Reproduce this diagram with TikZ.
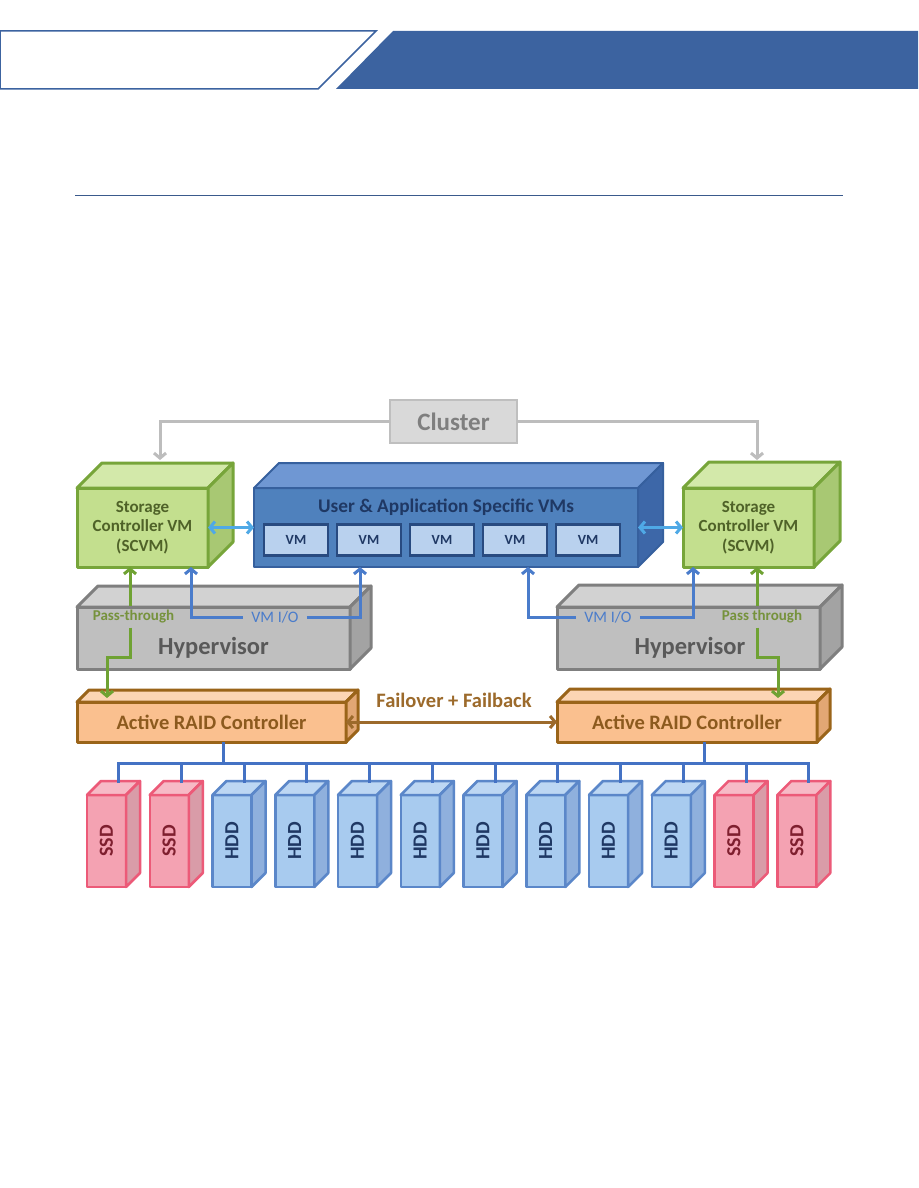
\documentclass[tikz,border=0pt]{standalone}
\usepackage{fontspec}
\setmainfont{Carlito}
\usepackage{graphicx}
\usetikzlibrary{arrows.meta}
\definecolor{hdr}{HTML}{3C63A0}
\definecolor{rulec}{HTML}{3A5A8C}
\definecolor{clfill}{HTML}{D9D9D9}
\definecolor{cldraw}{HTML}{BFBFBF}
\definecolor{cltext}{HTML}{7F7F7F}
\definecolor{clline}{HTML}{BDBDBD}
\definecolor{grnfront}{HTML}{C3DF8E}
\definecolor{grntop}{HTML}{D3E9AA}
\definecolor{grnside}{HTML}{A8C873}
\definecolor{grnedge}{HTML}{77A53A}
\definecolor{grntext}{HTML}{4F6228}
\definecolor{blufront}{HTML}{4F81BD}
\definecolor{blutop}{HTML}{6F97D3}
\definecolor{bluside}{HTML}{3D67A8}
\definecolor{bluedge}{HTML}{36609E}
\definecolor{blutext}{HTML}{1F3864}
\definecolor{vmfill}{HTML}{B9D1EE}
\definecolor{vmedge}{HTML}{284A80}
\definecolor{cyanarr}{HTML}{4FA9E6}
\definecolor{vmioc}{HTML}{4A7CCB}
\definecolor{ptc}{HTML}{6FA233}
\definecolor{pttext}{HTML}{76923C}
\definecolor{hypfront}{HTML}{BFBFBF}
\definecolor{hyptop}{HTML}{D2D2D2}
\definecolor{hypside}{HTML}{A3A3A3}
\definecolor{hypedge}{HTML}{7F7F7F}
\definecolor{hyptext}{HTML}{595959}
\definecolor{raidfront}{HTML}{FAC08F}
\definecolor{raidtop}{HTML}{FCD5B4}
\definecolor{raidside}{HTML}{E2A774}
\definecolor{raidedge}{HTML}{9A6419}
\definecolor{raidtext}{HTML}{8C5A1E}
\definecolor{foc}{HTML}{9C6A2B}
\definecolor{busc}{HTML}{4472C4}
\definecolor{ssdfront}{HTML}{F4A2B2}
\definecolor{ssdtop}{HTML}{F7BAC6}
\definecolor{ssdside}{HTML}{D99CA8}
\definecolor{ssdedge}{HTML}{EC5A78}
\definecolor{ssdtext}{HTML}{7F1F2F}
\definecolor{hddfront}{HTML}{A8CBEF}
\definecolor{hddtop}{HTML}{BDD7F3}
\definecolor{hddside}{HTML}{8FB0DD}
\definecolor{hddedge}{HTML}{5B87C9}
\definecolor{hddtext}{HTML}{1F3864}
\newcommand\mkcube[6]{%
  \node[cubebox=#4,#5] (#1) at #2 {#6};
  \draw[cubeedge=#4, fill=#4top] (#1.north west) -- ([shift={(#3,-#3)}]#1.north west)
     -- ([shift={(#3,-#3)}]#1.north east) -- (#1.north east) -- cycle;
  \draw[cubeedge=#4, fill=#4side] (#1.north east) -- ([shift={(#3,-#3)}]#1.north east)
     -- ([shift={(#3,-#3)}]#1.south east) -- (#1.south east) -- cycle;
}
\tikzset{
  grnw/.style={line width=3pt}, bluw/.style={line width=2pt}, hypw/.style={line width=3pt},
  raidw/.style={line width=3pt}, ssdw/.style={line width=2.5pt}, hddw/.style={line width=2.5pt},
  cubebox/.style={draw=#1edge, fill=#1front, #1w, inner sep=0pt, outer sep=0pt, line join=round, text=#1text},
  cubeedge/.style={draw=#1edge, #1w, line join=round},
  >={Straight Barb[length=5pt,width=12pt]},
  clusterbox/.style={draw=cldraw, fill=clfill, line width=2.5pt, minimum width=127, minimum height=43,
     inner sep=0pt, outer sep=0pt, text=cltext, font=\bfseries\fontsize{25}{28}\selectfont},
  clarrow/.style={draw=clline, line width=3pt, ->},
  cyanline/.style={draw=cyanarr, line width=3pt, <->},
  vmbox/.style={draw=vmedge, fill=vmfill, line width=2.5pt, minimum width=64, minimum height=31,
     inner sep=0pt, text=blutext, font=\bfseries\fontsize{14}{16}\selectfont},
  vmio/.style={draw=vmioc, line width=3pt},
  vmiotext/.style={text=vmioc, font=\fontsize{16}{18}\selectfont, inner xsep=8pt, inner ysep=3pt},
  ptline/.style={draw=ptc, line width=3pt},
  pttextst/.style={text=pttext, font=\bfseries\fontsize{15}{17}\selectfont, inner xsep=2pt, inner ysep=4pt},
  hyplabel/.style={text=hyptext, font=\bfseries\fontsize{24.5}{28}\selectfont},
  foline/.style={draw=foc, line width=3pt, <->},
  folabel/.style={text=foc, font=\bfseries\fontsize{20.5}{24}\selectfont},
  busline/.style={draw=busc, line width=3pt},
}
\begin{document}
\begin{tikzpicture}[x=1pt,y=-1pt]
\useasboundingbox (0,0) rectangle (918,1188);
\fill[white] (0,0) rectangle (918,1188);
% header
\draw[hdr, line width=1.5pt, fill=white] (0,31) -- (376,31) -- (318,89) -- (0,89) -- cycle;
\fill[hdr] (393,31) -- (918,31) -- (918,89) -- (336,89) -- cycle;
\draw[rulec, line width=1pt] (75,195) -- (843,195);

% cluster
\node[clusterbox] (cluster) at (453.5,421.5) {Cluster};
\coordinate (clL) at (160,460);
\coordinate (clR) at (757,460);
\draw[clarrow] (cluster.west) -| (clL);
\draw[clarrow] (cluster.east) -| (clR);

% SCVMs and VMs
\mkcube{scvmL}{(142.5,527.5)}{25}{grn}{minimum width=131, minimum height=79, align=center,
  font=\bfseries\fontsize{17}{19.5}\selectfont}{Storage\\Controller VM\\(SCVM)}
\mkcube{scvmR}{(748.5,527.5)}{26}{grn}{minimum width=131, minimum height=79, align=center,
  font=\bfseries\fontsize{17}{19.5}\selectfont}{Storage\\Controller VM\\(SCVM)}
\mkcube{vms}{(446,527.5)}{25}{blu}{minimum width=384, minimum height=79}{}
\node[text=blutext, font=\bfseries\fontsize{19.3}{22}\selectfont] (vmstitle) at (446,507) {User \& Application Specific VMs};
\foreach \i in {0,...,4} \node[vmbox] (vm\i) at ({296+73*\i},540) {VM};
\draw[cyanline] (scvmL.east) -- (vms.west);
\draw[cyanline] (vms.east) -- (scvmR.west);

% hypervisors
\mkcube{hypL}{(213.5,638)}{21}{hyp}{minimum width=273, minimum height=62}{}
\mkcube{hypR}{(688.5,638)}{22}{hyp}{minimum width=263, minimum height=62}{}
\node[hyplabel] (hypLt) at (213.5,648) {Hypervisor};
\node[hyplabel] (hypRt) at (690,648) {Hypervisor};

% RAID controllers
\mkcube{raidL}{(211.5,722)}{12}{raid}{minimum width=269, minimum height=40,
  font=\bfseries\fontsize{20.5}{24}\selectfont}{Active RAID Controller}
\mkcube{raidR}{(687,722)}{13}{raid}{minimum width=260, minimum height=40,
  font=\bfseries\fontsize{20.5}{24}\selectfont}{Active RAID Controller}
\node[folabel] (fol) at (454,700) {Failover + Failback};
\draw[foline] (raidL.east) -- (raidR.west);

% VM I/O paths
\node[vmiotext] (vmioL) at (275,617) {VM I/O};
\draw[vmio,<-] ([xshift=48.5]scvmL.south) |- (vmioL.west);
\draw[vmio,->] (vmioL.east) -| ([xshift=-86]vms.south);
\node[vmiotext] (vmioR) at (608,617) {VM I/O};
\draw[vmio,<-] ([xshift=82]vms.south) |- (vmioR.west);
\draw[vmio,->] (vmioR.east) -| ([xshift=-55.5]scvmR.south);

% pass-through paths
\node[pttextst] (ptL) at (133.5,617) {Pass-through};
\coordinate (gLa) at ([xshift=-12.5]scvmL.south);
\coordinate (gLb) at (107,698);
\draw[ptline,<-] (gLa) -- (gLa |- ptL.north);
\draw[ptline,->] (gLa |- ptL.south) -- ++(0,30) -| (gLb);
\node[pttextst] (ptR) at (762,617) {Pass through};
\coordinate (gRa) at ([xshift=8.5]scvmR.south);
\coordinate (gRb) at (778,698);
\draw[ptline,<-] (gRa) -- (gRa |- ptR.north);
\draw[ptline,->] (gRa |- ptR.south) -- ++(0,30) -| (gRb);

% disks
\foreach \i/\t/\k in {0/SSD/ssd,1/SSD/ssd,2/HDD/hdd,3/HDD/hdd,4/HDD/hdd,5/HDD/hdd,6/HDD/hdd,7/HDD/hdd,8/HDD/hdd,9/HDD/hdd,10/SSD/ssd,11/SSD/ssd}{
  \mkcube{d\i}{({106.5+62.75*\i},841)}{14}{\k}{minimum width=39, minimum height=92,
    font=\bfseries\fontsize{20}{24}\selectfont}{\rotatebox{90}{\t}}
  \coordinate (dt\i) at ([shift={(12,-12)}]d\i.north);
}
\coordinate (busy) at (0,763);
\draw[busline] (dt0) -- (dt0 |- busy) -- (dt11 |- busy) -- (dt11);
\foreach \i in {1,...,10} \draw[busline] (dt\i) -- (dt\i |- busy);
\coordinate (rlb) at ([xshift=12]raidL.south);
\coordinate (rrb) at ([xshift=17]raidR.south);
\draw[busline] (rlb) -- (rlb |- busy);
\draw[busline] (rrb) -- (rrb |- busy);
\end{tikzpicture}
\end{document}
